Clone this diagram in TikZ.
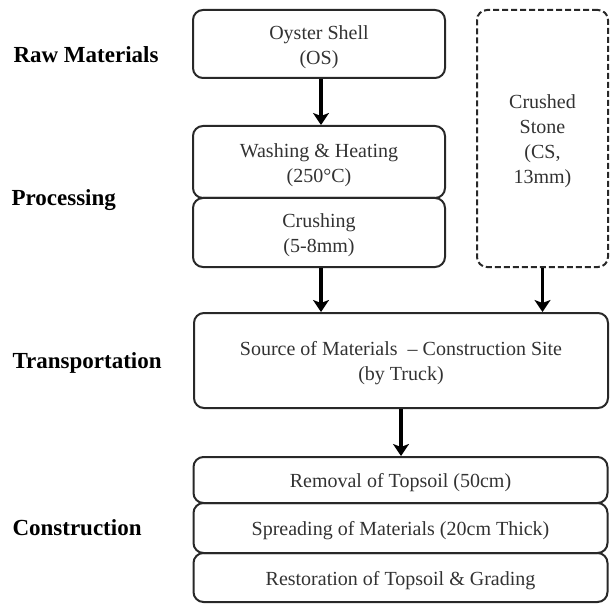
\documentclass[tikz,border=0pt]{standalone}
\usepackage{fontspec}
\setmainfont{Liberation Serif}
\usetikzlibrary{arrows.meta,positioning}
\definecolor{boxgray}{RGB}{40,40,40}
\definecolor{textgray}{RGB}{50,50,50}
\newcommand{\topstrut}{\rule{0pt}{20pt}}

\begin{document}
\begin{tikzpicture}[
    x=1pt, y=-1pt,
    box/.style={rectangle, rounded corners=10pt, draw=boxgray, line width=2pt, minimum width=252pt, align=center, text=textgray, font=\fontsize{20}{25}\selectfont},
    widebox/.style={box, minimum width=414pt},
    dbox/.style={box, dashed, dash pattern=on 6pt off 3pt, minimum width=131pt},
    stage/.style={anchor=west, font=\fontsize{23}{27}\selectfont\bfseries},
    arrow/.style={-{Stealth[length=12pt, width=16pt, inset=3pt]}, line width=3.2pt}
]
\useasboundingbox (0,0) rectangle (610,604);

% stage labels
\node[stage] (raw) at (10,55) {Raw Materials};
\node[stage] (proc) at (8,200) {Processing};
\node[stage] (trans) at (9,363) {Transportation};
\node[stage] (cons) at (9,528) {Construction};

% oyster shell branch
\node[box, minimum height=68pt] (os) at (319,44) {\topstrut Oyster Shell\\(OS)};
\node[box, minimum height=72pt] (wash) at (319,162) {\topstrut Washing \& Heating\\(250°C)};
\node[box, minimum height=69pt] (crush) at (319,232.5) {\topstrut Crushing\\(5-8mm)};

% crushed stone
\node[dbox, minimum height=257pt] (cs) at (542.5,138.5) {\topstrut Crushed\\Stone\\(CS,\\13mm)};

% transport
\node[widebox, minimum height=95pt] (src) at (401,360.5) {\topstrut Source of Materials~ -- Construction Site\\(by Truck)};

% construction steps
\node[widebox, minimum height=46pt] (rem) at (400.5,480) {\topstrut Removal of Topsoil (50cm)};
\node[widebox, minimum height=50pt] (spr) at (400.5,528) {\topstrut Spreading of Materials (20cm Thick)};
\node[widebox, minimum height=49pt] (res) at (400.5,577.5) {\topstrut Restoration of Topsoil \& Grading};

\draw[arrow] ([xshift=2pt]os.south) -- ([xshift=2pt]wash.north);
\draw[arrow] ([xshift=2pt]crush.south) -- ([xshift=2pt]crush.south |- src.north);
\draw[arrow] (cs.south) -- (cs.south |- src.north);
\draw[arrow] (src.south) -- (src.south |- rem.north);
\end{tikzpicture}
\end{document}
